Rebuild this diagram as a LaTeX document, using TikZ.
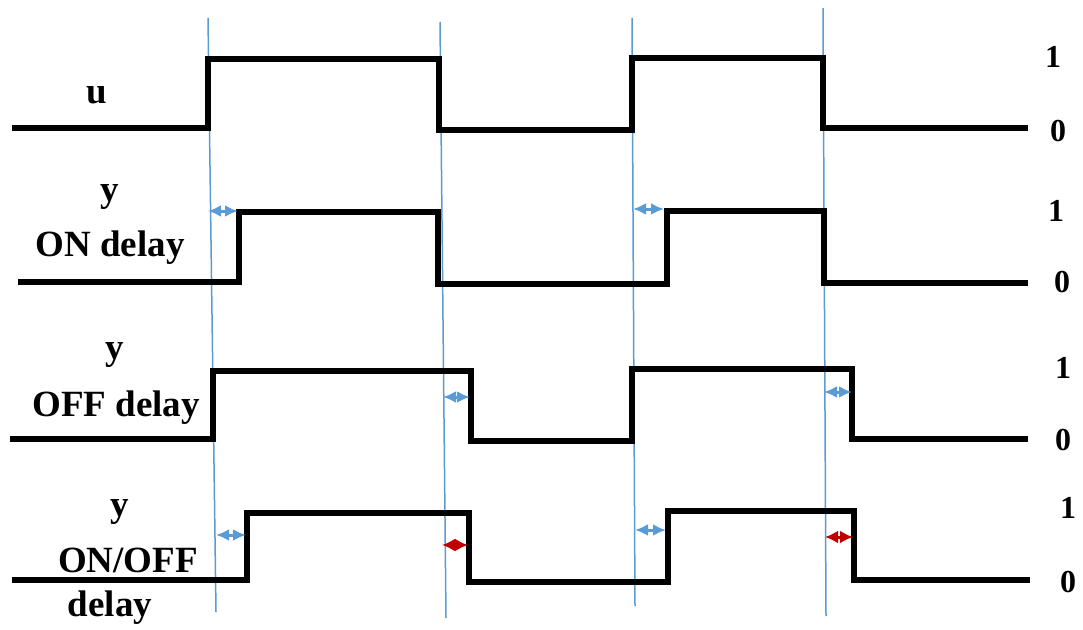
\documentclass[tikz,border=0pt]{standalone}
\usepackage{fontspec}
\setmainfont{Liberation Serif}
\usetikzlibrary{arrows.meta}
\definecolor{guide}{RGB}{91,155,213}
\definecolor{dred}{RGB}{192,0,0}
\tikzset{
  wave/.style={line width=6pt, line join=miter, black},
  guideline/.style={line width=1.5pt, guide},
  bluearr/.style={line width=3pt, guide, {Latex[length=13pt,width=12pt]}-{Latex[length=13pt,width=12pt]}},
  redarr/.style={line width=3pt, dred, {Latex[length=13pt,width=13pt]}-{Latex[length=13pt,width=13pt]}},
  lab/.style={font=\fontsize{37}{40}\selectfont\bfseries, inner sep=0pt},
  lev/.style={font=\fontsize{32}{34}\selectfont\bfseries, inner sep=0pt}
}
\begin{document}
\begin{tikzpicture}[x=1pt,y=-1pt]
\useasboundingbox (0,0) rectangle (1083,629);
% guide lines
\draw[guideline] (208,18) -- (216,612);
\draw[guideline] (440,22) -- (446,618);
\draw[guideline] (632,18) -- (635,606);
\draw[guideline] (823,8) -- (826,616);
% waveforms
\draw[wave] (12,128) -- (208,128) -- (208,59) -- (439,59) -- (439,130) -- (632,130) -- (632,58) -- (823,58) -- (823,128) -- (1028,128);
\draw[wave] (18,282) -- (239,282) -- (239,212) -- (438,212) -- (438,284) -- (667,284) -- (667,211) -- (824,211) -- (824,283) -- (1028,283);
\draw[wave] (10,439) -- (213,439) -- (213,371) -- (471,371) -- (471,441) -- (632,441) -- (632,369) -- (852,369) -- (852,439) -- (1028,439);
\draw[wave] (12,580) -- (247,580) -- (247,513) -- (469,513) -- (469,582) -- (668,582) -- (668,511) -- (854,511) -- (854,580) -- (1030,580);
% delay arrows
\coordinate (a1s) at (208,211); \coordinate (a1e) at (238,211);
\coordinate (a2s) at (633,209); \coordinate (a2e) at (664,209);
\coordinate (a3s) at (443,397); \coordinate (a3e) at (470,397);
\coordinate (a4s) at (824,392); \coordinate (a4e) at (852,392);
\coordinate (a5s) at (216,535); \coordinate (a5e) at (246,535);
\coordinate (a6s) at (635,530); \coordinate (a6e) at (666,530);
\coordinate (r1s) at (442,545); \coordinate (r1e) at (468,545);
\coordinate (r2s) at (825,537); \coordinate (r2e) at (853,537);
\draw[bluearr] (a1s) -- (a1e);
\draw[bluearr] (a2s) -- (a2e);
\draw[bluearr] (a3s) -- (a3e);
\draw[bluearr] (a4s) -- (a4e);
\draw[bluearr] (a5s) -- (a5e);
\draw[bluearr] (a6s) -- (a6e);
\draw[redarr] (r1s) -- (r1e);
\draw[redarr] (r2s) -- (r2e);
% labels
\node[lab] (lu) at (97,95) {u};
\node[lab] (ly1) at (110,197) {y};
\node[lab] (lon) at (110,248) {ON delay};
\node[lab] (ly2) at (115,355) {y};
\node[lab] (loff) at (116,408) {OFF delay};
\node[lab] (ly3) at (120,512) {y};
\node[lab] (lonoff) at (128,560) {ON/OFF};
\node[lab] (ldel) at (110,608) {delay};
% levels
\node[lev] (h1) at (1053,57) {1};
\node[lev] (z1) at (1058,131) {0};
\node[lev] (h2) at (1056,211) {1};
\node[lev] (z2) at (1062,282) {0};
\node[lev] (h3) at (1063,368) {1};
\node[lev] (z3) at (1063,440) {0};
\node[lev] (h4) at (1068,508) {1};
\node[lev] (z4) at (1068,582) {0};
\end{tikzpicture}
\end{document}
